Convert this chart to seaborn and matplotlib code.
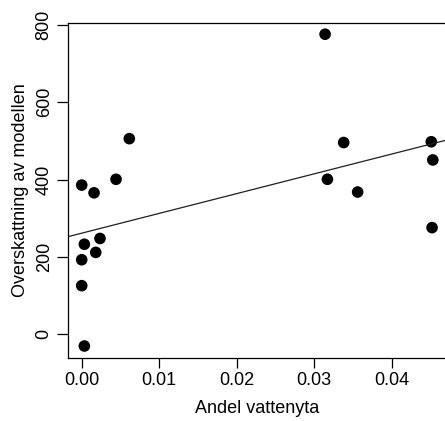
import pandas as pd
import seaborn as sns
import matplotlib.pyplot as plt
import numpy as np

# data
andel = [0.0314, 0.00614, 0.0338, 0.0451, 0.0453, 0.00443, 0.0317, 0.0, 0.00159,
         0.0356, 0.0452, 0.00034, 0.00236, 0.00181, 0.0, 0.0, 0.00034]
overskattning = [776, 506, 496, 498, 451, 401, 401, 386, 366,
                 368, 276, 233, 248, 212, 193, 126, -30]
x_ticks = [0.00, 0.01, 0.02, 0.03, 0.04]
x_labels = ["0.00", "0.01", "0.02", "0.03", "0.04"]
y_ticks = [0, 200, 400, 600, 800]

df = pd.DataFrame({"Andel vattenyta": andel, "Overskattning av modellen": overskattning})

sns.set_style("ticks")
plt.rcParams["font.family"] = ["Liberation Sans", "DejaVu Sans"]

fig = plt.figure(figsize=(4.45, 4.21), dpi=100)
ax = fig.add_axes([68 / 445, 1 - 358 / 421, 378 / 445, 335 / 421])

sns.regplot(data=df, x="Andel vattenyta", y="Overskattning av modellen", ax=ax,
            ci=None, truncate=False,
            scatter_kws={"s": 70, "color": "black", "edgecolor": "none", "alpha": 1},
            line_kws={"color": "#202020", "linewidth": 0.9})

ax.set_xlim(-0.00177, 0.0470)
ax.set_ylim(-61, 805)
ax.set_xticks(x_ticks)
ax.set_xticklabels(x_labels)
ax.set_yticks(y_ticks)
ax.set_yticklabels([str(v) for v in y_ticks], rotation=90, va="center")
ax.tick_params(axis="both", labelsize=13, length=7, width=0.9, color="black",
               labelcolor="black")
ax.tick_params(axis="x", pad=3)
ax.tick_params(axis="y", pad=3, length=8)
ax.set_xlabel("Andel vattenyta", fontsize=13, labelpad=8, color="black")
ax.set_ylabel("Overskattning av modellen", fontsize=13, labelpad=5, color="black")
for s in ax.spines.values():
    s.set_visible(True)
    s.set_color("black")
    s.set_linewidth(0.9)

fig.savefig("out.png", dpi=100)
